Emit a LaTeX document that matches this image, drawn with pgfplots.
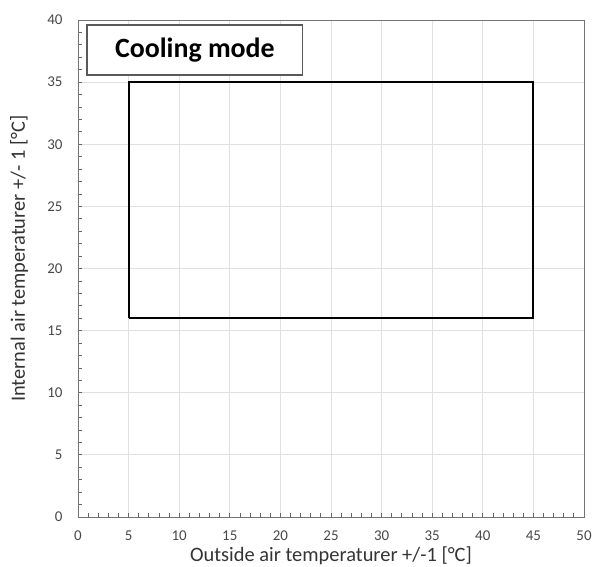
\documentclass[border=0pt]{standalone}
\usepackage{pgfplots}
\pgfplotsset{compat=1.18}
\usepackage{fontspec}
\setmainfont{Carlito}
\begin{document}
\begin{tikzpicture}
% fix the page to the reference's frame around the axis box
\useasboundingbox (-78bp,-50bp) rectangle (517bp,517bp);
\begin{axis}[
    at={(0,0)}, anchor=south west,
    scale only axis,
    width=506bp, height=497bp,
    xmin=0, xmax=50, ymin=0, ymax=40,
    xtick={0,5,...,50}, ytick={0,5,...,40},
    minor x tick num=4, minor y tick num=4,
    tick pos=left, tick align=inside,
    major tick length=4bp, minor tick length=4bp,
    tick style={black!60, line width=0.8pt},
    grid=major,
    major grid style={black!12, line width=0.8pt},
    axis line style={black!55, line width=1pt},
    ticklabel style={font=\fontsize{15}{17}\selectfont, text=black!72},
    xticklabel style={yshift=-10bp},
    yticklabel style={xshift=-12bp},
    /pgf/number format/assume math mode=true,
    xlabel={Outside air temperaturer +/-1 [°C]},
    ylabel={Internal air temperaturer +/- 1 [°C]},
    label style={font=\fontsize{20.5}{24}\selectfont, text=black!80},
    xlabel style={at={(axis description cs:0.5,0)}, anchor=base, yshift=-44bp},
    ylabel style={at={(axis description cs:-0.105,0.52)}, anchor=base},
    clip=false,
]
\addplot[black, line width=2pt, sharp corners] coordinates {
    (5,16) (45,16) (45,35) (5,35) (5,16)
};
\draw[black!65, line width=1.5pt, fill=white]
    (axis cs:0.9,35.57) rectangle (axis cs:22.2,39.6);
\node[font=\bfseries\fontsize{28}{32}\selectfont] at (axis cs:11.55,37.55) {Cooling mode};
\end{axis}
\end{tikzpicture}
\end{document}
